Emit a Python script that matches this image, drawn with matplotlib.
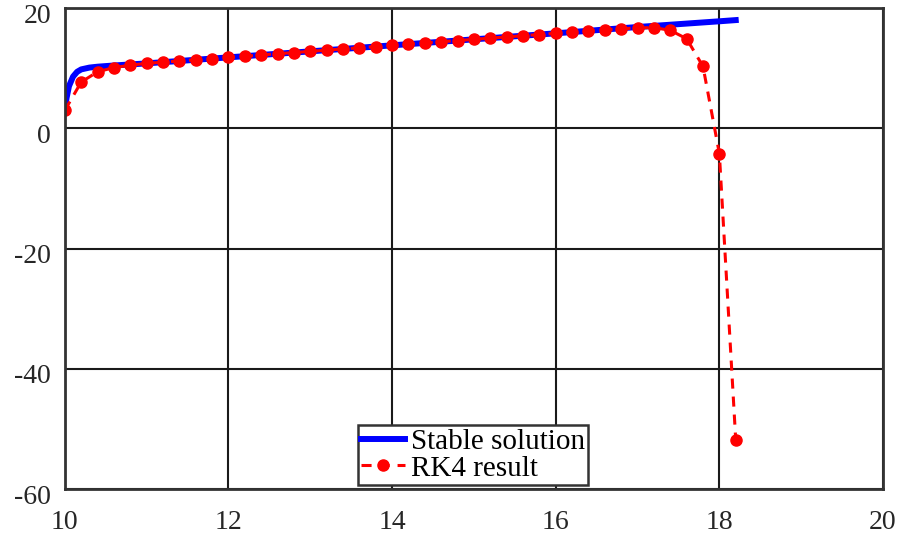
import numpy as np
import matplotlib
matplotlib.use('Agg')
from matplotlib import pyplot as plt
from matplotlib import transforms

# stable solution
x_stable = [10.0, 10.02, 10.05, 10.1, 10.15, 10.2, 10.3, 10.4, 10.6,
            11.0, 12.0, 13.0, 14.0, 15.0, 16.0, 17.0, 18.0, 18.2]
y_stable = [3.0, 5.0, 7.0, 8.6, 9.4, 9.8, 10.1, 10.25, 10.45,
            10.8, 11.8, 12.8, 13.8, 14.8, 15.8, 16.85, 17.8, 18.0]

# RK4 result (red markers)
x_rk4 = [10.0, 10.2, 10.4, 10.6, 10.8, 11.0, 11.2, 11.4, 11.6, 11.8,
         12.0, 12.2, 12.4, 12.6, 12.8, 13.0, 13.2, 13.4, 13.6, 13.8,
         14.0, 14.2, 14.4, 14.6, 14.8, 15.0, 15.2, 15.4, 15.6, 15.8,
         16.0, 16.2, 16.4, 16.6, 16.8, 17.0, 17.2, 17.4, 17.6, 17.8,
         18.0, 18.2]
y_rk4 = [3.0, 7.7, 9.4, 10.1, 10.5, 10.8, 11.0, 11.2, 11.4, 11.6,
         11.8, 12.0, 12.2, 12.4, 12.6, 12.8, 13.0, 13.2, 13.4, 13.6,
         13.8, 14.0, 14.2, 14.4, 14.6, 14.8, 15.0, 15.2, 15.4, 15.6,
         15.8, 16.0, 16.2, 16.4, 16.55, 16.7, 16.75, 16.3, 14.9, 10.3,
         -4.2, -51.8]

xticks = [10, 12, 14, 16, 18, 20]
yticks = [-60, -40, -20, 0, 20]

plt.rcParams['font.family'] = ['Liberation Serif', 'DejaVu Serif']
plt.rcParams['axes.unicode_minus'] = False

fig = plt.figure(figsize=(9.01, 5.38), dpi=100)
ax = fig.add_axes([0.072, 0.091, 0.908, 0.894])

ax.plot(x_stable, y_stable, color='#0000ff', lw=4.3, label='Stable solution')
ax.plot(x_rk4, y_rk4, color='#ff0000', lw=2.2, ls=(0, (3.3, 2.6)),
        marker='o', ms=8, label='RK4 result')

ax.set_xlim(10, 20)
ax.set_ylim(-60, 20)
ax.set_xticks(xticks)
ax.set_yticks(yticks)
ax.grid(True, color='#1a1a1a', lw=1.5)
ax.set_axisbelow(True)
ax.tick_params(length=0, labelsize=20, labelcolor='#262626')
ax.tick_params(axis='x', pad=15)
ax.tick_params(axis='y', pad=10)
# y labels sit a little below their grid lines in the original
shift = transforms.ScaledTranslation(0, -5 / 100, fig.dpi_scale_trans)
for lab in ax.get_yticklabels():
    lab.set_transform(lab.get_transform() + shift)
for sp in ax.spines.values():
    sp.set_color('#333333')
    sp.set_linewidth(2)

leg = ax.legend(loc='lower center', bbox_to_anchor=(0.499, 0.008),
                fontsize=21, frameon=True, fancybox=False,
                borderpad=0.12, labelspacing=0.0, handlelength=1.5,
                handletextpad=0.2, borderaxespad=0)
leg.get_frame().set_edgecolor('#333333')
leg.get_frame().set_linewidth(1.8)
leg.get_frame().set_alpha(1)

fig.savefig('out.png', dpi=100)
